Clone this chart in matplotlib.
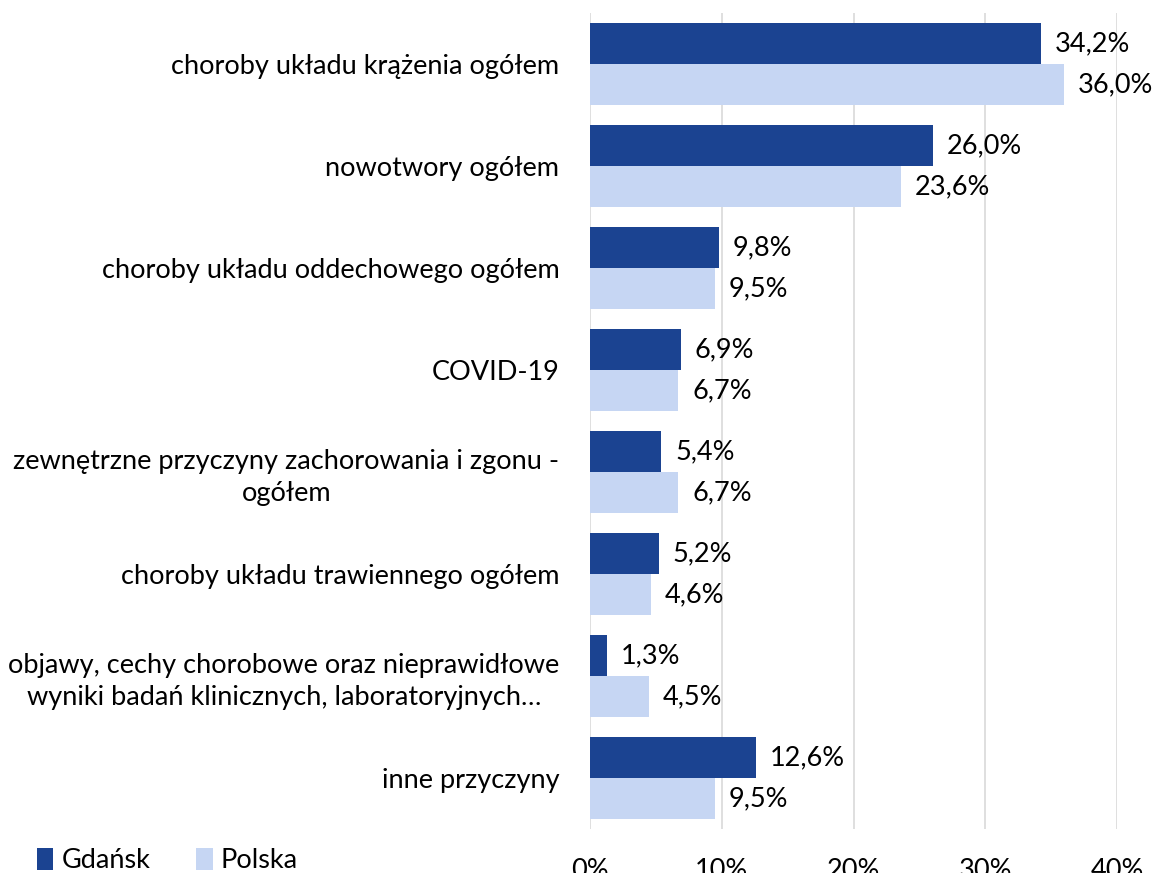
import matplotlib
matplotlib.use("Agg")
import matplotlib.pyplot as plt
import numpy as np
from matplotlib.patches import Patch

plt.rcParams['font.family'] = ['Lato', 'DejaVu Sans']

categories = [
    "choroby układu krążenia ogółem",
    "nowotwory ogółem",
    "choroby układu oddechowego ogółem",
    "COVID-19",
    "zewnętrzne przyczyny zachorowania i zgonu -\nogółem",
    "choroby układu trawiennego ogółem",
    "objawy, cechy chorobowe oraz nieprawidłowe\nwyniki badań klinicznych, laboratoryjnych…",
    "inne przyczyny",
]
gdansk = [34.2, 26.0, 9.8, 6.9, 5.4, 5.2, 1.3, 12.6]
polska = [36.0, 23.6, 9.5, 6.7, 6.7, 4.6, 4.5, 9.5]
series_names = ["Gdańsk", "Polska"]
xticks = [0, 10, 20, 30, 40]
xtick_labels = ["0%", "10%", "20%", "30%", "40%"]

c_dark = "#1B4391"
c_light = "#C6D6F3"

fig = plt.figure(figsize=(11.56, 8.73), dpi=100)
ax = fig.add_axes([590/1156, 1-829/873, (1117-590)/1156, (829-13)/873])

y = np.arange(len(categories))
h = 0.40
ax.barh(y - h/2, gdansk, height=h, color=c_dark, zorder=3)
ax.barh(y + h/2, polska, height=h, color=c_light, zorder=3)

fs = 19.5
for yi, v in zip(y, gdansk):
    ax.annotate(f"{v:.1f}%".replace(".", ","), (v, yi - h/2), xytext=(10, 0),
                textcoords="offset points", va="center", ha="left", fontsize=fs)
for yi, v in zip(y, polska):
    ax.annotate(f"{v:.1f}%".replace(".", ","), (v, yi + h/2), xytext=(10, 0),
                textcoords="offset points", va="center", ha="left", fontsize=fs)

ax.set_xlim(0, 40)
ax.set_ylim(len(categories) - 0.5, -0.5)
ax.set_yticks(y)
ax.set_yticklabels(categories, fontsize=fs, multialignment="center", linespacing=1.35)
ax.set_xticks(xticks)
ax.set_xticklabels(xtick_labels, fontsize=fs)
ax.tick_params(axis="y", length=0, pad=22)
ax.tick_params(axis="x", length=0, pad=21)
for s in ax.spines.values():
    s.set_visible(False)
ax.grid(axis="x", color="#D9D9D9", linewidth=1.2, zorder=0)
ax.set_axisbelow(True)

handles = [Patch(facecolor=c_dark), Patch(facecolor=c_light)]
fig.legend(handles, series_names, loc="lower left", bbox_to_anchor=(0.018, -0.019),
           ncol=2, frameon=False, fontsize=fs, handlelength=0.6, handleheight=0.9,
           handletextpad=0.3, columnspacing=1.7, borderaxespad=0.2)

fig.savefig("out.png", dpi=100)
